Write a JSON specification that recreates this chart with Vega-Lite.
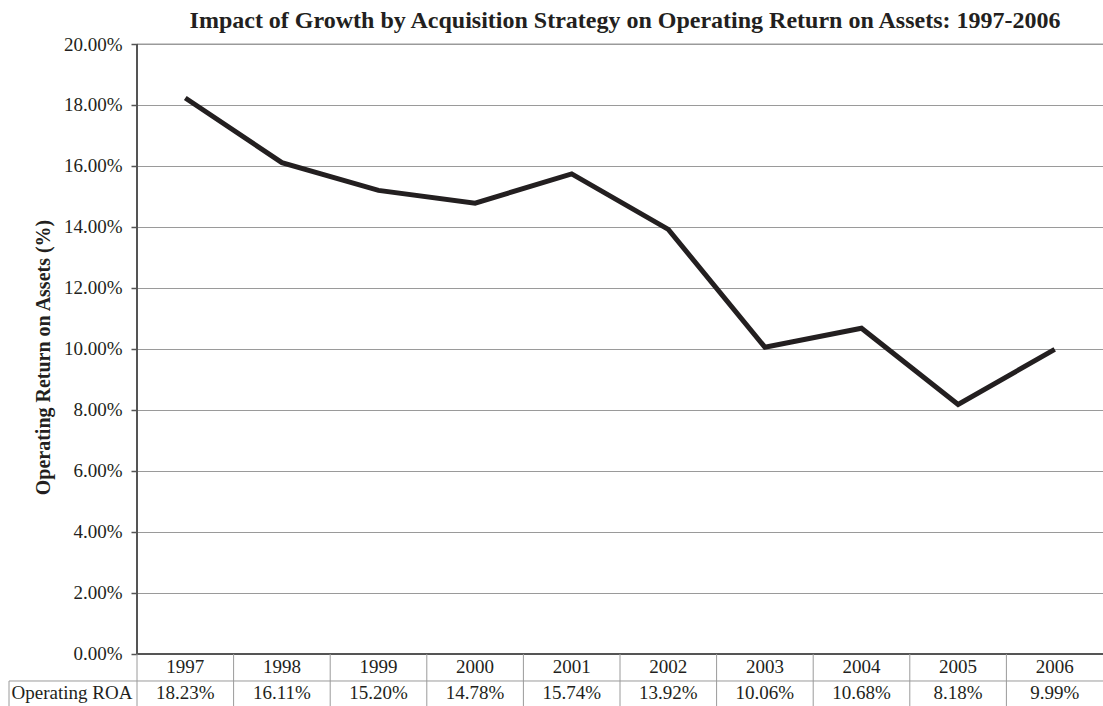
{
  "$schema": "https://vega.github.io/schema/vega-lite/v6.json",
  "width": 966,
  "height": 662,
  "autosize": {"type": "none"},
  "padding": {"left": 137, "top": 44, "right": 0, "bottom": 0},
  "background": "white",
  "config": {
    "view": {"stroke": null},
    "font": "Liberation Serif"
  },
  "title": {
    "text": "Impact of Growth by Acquisition Strategy on Operating Return on Assets: 1997-2006",
    "font": "Liberation Serif",
    "fontSize": 24,
    "fontWeight": "bold",
    "color": "#231f20",
    "anchor": "middle",
    "offset": 2,
    "dx": 5
  },
  "data": {
    "values": [
      {"year": "1997", "roa": 0.1823},
      {"year": "1998", "roa": 0.1611},
      {"year": "1999", "roa": 0.1520},
      {"year": "2000", "roa": 0.1478},
      {"year": "2001", "roa": 0.1574},
      {"year": "2002", "roa": 0.1392},
      {"year": "2003", "roa": 0.1006},
      {"year": "2004", "roa": 0.1068},
      {"year": "2005", "roa": 0.0818},
      {"year": "2006", "roa": 0.0999}
    ]
  },
  "encoding": {
    "x": {
      "field": "year",
      "type": "ordinal",
      "scale": {"type": "band", "paddingInner": 0, "paddingOuter": 0},
      "axis": null
    }
  },
  "layer": [
    {
      "data": {"values": [{}]},
      "mark": {"type": "rule", "color": "#9a9a9a", "strokeWidth": 1},
      "encoding": {
        "x": null,
        "y": {
          "datum": 0.2,
          "type": "quantitative",
          "scale": {"domain": [-0.01705, 0.2], "nice": false, "zero": false},
          "axis": {
            "values": [0, 0.02, 0.04, 0.06, 0.08, 0.1, 0.12, 0.14, 0.16, 0.18, 0.2],
            "format": ".2%",
            "grid": true,
            "gridColor": "#9a9a9a",
            "gridWidth": 1,
            "domain": false,
            "ticks": true,
            "tickColor": "#555555",
            "tickSize": 6,
            "tickWidth": 1.5,
            "labelFont": "Liberation Serif",
            "labelFontSize": 19,
            "labelColor": "#231f20",
            "labelPadding": 9,
            "title": "Operating Return on Assets (%)",
            "titleFont": "Liberation Serif",
            "titleFontSize": 20,
            "titleFontWeight": "bold",
            "titleColor": "#231f20",
            "titleY": 313,
            "titleX": -84
          }
        }
      }
    },
    {
      "data": {"values": [{}]},
      "mark": {"type": "rule", "color": "#555555", "strokeWidth": 2},
      "encoding": {
        "x": null,
        "y": {"datum": 0, "type": "quantitative"}
      }
    },
    {
      "data": {"values": [{}]},
      "mark": {"type": "rule", "color": "#555555", "strokeWidth": 2},
      "encoding": {
        "x": {"datum": "1997", "type": "ordinal", "bandPosition": 0},
        "y": {"datum": 0, "type": "quantitative"},
        "y2": {"datum": 0.2}
      }
    },
    {
      "mark": {"type": "rule", "color": "#9a9a9a", "strokeWidth": 1},
      "encoding": {
        "x": {"field": "year", "type": "ordinal", "bandPosition": 0},
        "y": {"datum": 0, "type": "quantitative"},
        "y2": {"datum": -0.01705}
      }
    },
    {
      "data": {"values": [{}]},
      "mark": {"type": "rule", "color": "#9a9a9a", "strokeWidth": 1, "xOffset": -128},
      "encoding": {
        "x": {"datum": "1997", "type": "ordinal", "bandPosition": 0},
        "y": {"datum": -0.00885, "type": "quantitative"},
        "y2": {"datum": -0.01705}
      }
    },
    {
      "data": {"values": [{}]},
      "mark": {"type": "rule", "color": "#9a9a9a", "strokeWidth": 1, "xOffset": -128},
      "encoding": {
        "x": {"datum": "1997", "type": "ordinal", "bandPosition": 0},
        "x2": {"datum": "2006", "bandPosition": 1},
        "y": {"datum": -0.00885, "type": "quantitative"}
      }
    },
    {
      "mark": {"type": "line", "color": "#231f20", "strokeWidth": 5, "strokeCap": "butt", "strokeJoin": "miter"},
      "encoding": {
        "y": {"field": "roa", "type": "quantitative"}
      }
    },
    {
      "mark": {"type": "text", "font": "Liberation Serif", "fontSize": 19, "color": "#231f20", "baseline": "middle"},
      "encoding": {
        "y": {"datum": -0.0044, "type": "quantitative"},
        "text": {"field": "year"}
      }
    },
    {
      "mark": {"type": "text", "font": "Liberation Serif", "fontSize": 19, "color": "#231f20", "baseline": "middle"},
      "encoding": {
        "y": {"datum": -0.0128, "type": "quantitative"},
        "text": {"field": "roa", "format": ".2%"}
      }
    },
    {
      "data": {"values": [{}]},
      "mark": {"type": "text", "font": "Liberation Serif", "fontSize": 19, "color": "#231f20", "baseline": "middle", "align": "center", "xOffset": -65},
      "encoding": {
        "x": {"datum": "1997", "type": "ordinal", "bandPosition": 0},
        "y": {"datum": -0.0128, "type": "quantitative"},
        "text": {"value": "Operating ROA"}
      }
    }
  ]
}
